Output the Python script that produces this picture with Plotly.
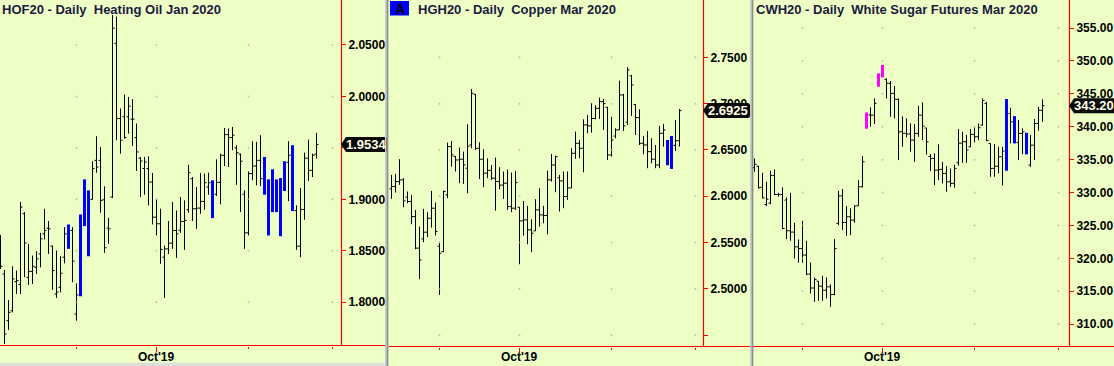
import plotly.graph_objects as go

W, H = 1114, 366
BG = "#EEFFC6"
RED = "#FF0000"
FONT = "Liberation Sans, Arial, sans-serif"
TITLE_COLOR = "#1A1A40"

# ---------------- Panel 1: Heating Oil ----------------
hof_title = "HOF20 - Daily\u00a0 Heating Oil Jan 2020"
hof_open = [1.8470, 1.8275, 1.7821, 1.7918, 1.8200, 1.8172, 1.8860, 1.8243, 1.8300, 1.8340,
            1.8470, 1.8665, 1.8720, 1.8545, 1.8081, 1.8145, 1.8438, 1.8740, 1.8698, 1.7886,
            1.8070, 1.8760, 1.9080, 1.8999, 1.9379, 1.9379, 1.8996, 1.8720, 1.9022, 2.0516,
            1.9785, 1.9802, 1.9802, 1.9779, 1.9600, 1.9400, 1.9300, 1.9300, 1.9168, 1.8827,
            1.8763, 1.8438, 1.8519, 1.8574, 1.8698, 1.8700, 1.8785, 1.8900, 1.9200, 1.8909,
            1.8915, 1.8980, 1.9120, 1.9180, 1.9050, 1.9165, 1.9428, 1.9629, 1.9600, 1.9500,
            1.9440, 1.9050, 1.8675, 1.9250, 1.9324, 1.9379, 1.9400, 1.9190, 1.8880, 1.9190,
            1.8650, 1.9090, 1.9360, 1.9520, 1.8890, 1.8545, 1.8902, 1.9400, 1.9282, 1.9440]
hof_high = [1.8655, 1.8314, 1.8022, 1.8350, 1.8308, 1.8974, 1.8876, 1.8568, 1.8454, 1.8496,
            1.8675, 1.8909, 1.8789, 1.8551, 1.8503, 1.8448, 1.8730, 1.8756, 1.8730, 1.8184,
            1.8853, 1.9194, 1.9087, 1.9370, 1.9613, 1.9509, 1.9126, 1.8821, 2.0792, 2.0776,
            1.9883, 2.0019, 1.9996, 1.9974, 1.9737, 1.9412, 1.9412, 1.9418, 1.9256, 1.8999,
            1.8909, 1.8551, 1.8789, 1.8974, 1.8892, 1.9022, 1.8990, 1.9337, 1.9217, 1.9120,
            1.9256, 1.9250, 1.9259, 1.9185, 1.9389, 1.9444, 1.9694, 1.9688, 1.9704, 1.9526,
            1.9444, 1.9087, 1.9272, 1.9565, 1.9558, 1.9623, 1.9412, 1.9194, 1.9292, 1.9194,
            1.9207, 1.9370, 1.9565, 1.9526, 1.8941, 1.9110, 1.9454, 1.9581, 1.9444, 1.9646]
hof_low = [1.8324, 1.7594, 1.7730, 1.7902, 1.8081, 1.8081, 1.8243, 1.8168, 1.8178, 1.8275,
           1.8340, 1.8610, 1.8470, 1.8120, 1.8042, 1.8097, 1.8379, 1.8519, 1.8194, 1.7821,
           1.8058, 1.8740, 1.8448, 1.8999, 1.9259, 1.8870, 1.8480, 1.8568, 1.9012, 1.9574,
           1.9444, 1.9590, 1.9639, 1.9519, 1.9276, 1.9022, 1.9045, 1.8941, 1.8756, 1.8649,
           1.8373, 1.8042, 1.8470, 1.8519, 1.8431, 1.8675, 1.8509, 1.8870, 1.8789, 1.8714,
           1.8860, 1.8899, 1.9045, 1.8818, 1.9032, 1.8951, 1.9324, 1.9315, 1.9477, 1.9142,
           1.8876, 1.8519, 1.8649, 1.9185, 1.9136, 1.9129, 1.9045, 1.8649, 1.8876, 1.8876,
           1.8642, 1.9081, 1.8983, 1.8886, 1.8509, 1.8438, 1.8802, 1.9178, 1.9217, 1.9396]
hof_close = [1.8350, 1.7691, 1.7902, 1.8227, 1.8210, 1.8925, 1.8577, 1.8300, 1.8350, 1.8422,
             1.8616, 1.8698, 1.8714, 1.8308, 1.8100, 1.8282, 1.8665, 1.8530, 1.8399, 1.8071,
             1.8840, 1.9180, 1.8460, 1.9300, 1.9315, 1.8990, 1.8530, 1.8714, 2.0662, 1.9785,
             1.9574, 1.9600, 1.9905, 1.9779, 1.9461, 1.9373, 1.9363, 1.9168, 1.8827, 1.8763,
             1.8513, 1.8519, 1.8574, 1.8698, 1.8665, 1.8785, 1.8795, 1.9259, 1.8909, 1.8915,
             1.8980, 1.9162, 1.9162, 1.8830, 1.9165, 1.9428, 1.9629, 1.9600, 1.9623, 1.9454,
             1.9370, 1.8675, 1.9250, 1.9324, 1.9379, 1.9201, 1.9060, 1.8660, 1.9280, 1.8890,
             1.9200, 1.9360, 1.9428, 1.8890, 1.8545, 1.8902, 1.9400, 1.9282, 1.9428, 1.9534]
hof_painted = {17: "blue", 20: "blue", 21: "blue", 22: "blue", 53: "blue", 66: "blue",
               67: "blue", 68: "blue", 69: "blue", 70: "blue", 71: "blue", 73: "blue"}
hof_month_starts = [19, 39, 62, 83]
hof_yticks = [1.80, 1.85, 1.90, 1.95, 2.00, 2.05]
hof_yticktext = ["1.8000", "1.8500", "1.9000", "1.9500", "2.0000", "2.0500"]
hof_last = "1.9534"

# ---------------- Panel 2: Copper ----------------
hg_title = "HGH20 - Daily\u00a0 Copper Mar 2020"
hg_open = [2.6080, 2.6105, 2.6159, 2.6177, 2.5990, 2.5943, 2.5781, 2.5440, 2.5540, 2.5612,
           2.5763, 2.5871, 2.5460, 2.5403, 2.6015, 2.6536, 2.6430, 2.6392, 2.6400, 2.6303,
           2.6554, 2.7101, 2.6518, 2.6400, 2.6249, 2.6280, 2.6195, 2.6159, 2.6120, 2.6141,
           2.5889, 2.5871, 2.5882, 2.5734, 2.5745, 2.5637, 2.5626, 2.5853, 2.5799, 2.5792,
           2.6177, 2.6338, 2.6200, 2.6166, 2.5997, 2.6090, 2.6464, 2.6572, 2.6518, 2.6770,
           2.6760, 2.6840, 2.6950, 2.7022, 2.6960, 2.6446, 2.6650, 2.6716, 2.7094, 2.6800,
           2.7300, 2.6990, 2.6850, 2.6572, 2.6554, 2.6482, 2.6400, 2.6338, 2.6680, 2.6600,
           2.6340, 2.6550, 2.6600]
hg_high = [2.6231, 2.6241, 2.6400, 2.6195, 2.6051, 2.6015, 2.5853, 2.5673, 2.5864, 2.5828,
           2.6058, 2.5932, 2.5500, 2.6062, 2.6579, 2.6597, 2.6436, 2.6526, 2.6482, 2.6777,
           2.7159, 2.7105, 2.6583, 2.6508, 2.6410, 2.6338, 2.6418, 2.6313, 2.6267, 2.6288,
           2.6256, 2.6274, 2.5882, 2.5950, 2.5896, 2.5752, 2.5968, 2.6087, 2.5896, 2.6277,
           2.6457, 2.6439, 2.6231, 2.6267, 2.6267, 2.6518, 2.6698, 2.6608, 2.6831, 2.6878,
           2.7004, 2.6982, 2.7065, 2.7051, 2.6968, 2.6860, 2.6734, 2.7249, 2.7105, 2.7392,
           2.7310, 2.6993, 2.6939, 2.6651, 2.6705, 2.6626, 2.6554, 2.6759, 2.6781, 2.6608,
           2.6651, 2.6824, 2.6943]
hg_low = [2.5972, 2.6040, 2.6123, 2.5882, 2.5925, 2.5698, 2.5428, 2.5105, 2.5504, 2.5558,
          2.5662, 2.5576, 2.4936, 2.5396, 2.5979, 2.6320, 2.6267, 2.6141, 2.6134, 2.6033,
          2.6518, 2.6500, 2.6187, 2.6098, 2.6195, 2.6177, 2.5846, 2.6076, 2.5972, 2.5853,
          2.5828, 2.5853, 2.5266, 2.5576, 2.5482, 2.5396, 2.5626, 2.5673, 2.5709, 2.5590,
          2.6159, 2.6044, 2.5835, 2.5871, 2.5961, 2.6087, 2.6403, 2.6410, 2.6259, 2.6680,
          2.6687, 2.6831, 2.6835, 2.6716, 2.6392, 2.6428, 2.6626, 2.6716, 2.6705, 2.6770,
          2.6867, 2.6662, 2.6554, 2.6454, 2.6303, 2.6356, 2.6303, 2.6303, 2.6536, 2.6335,
          2.6295, 2.6490, 2.6536]
hg_close = [2.6105, 2.6159, 2.6177, 2.5950, 2.5943, 2.5781, 2.5440, 2.5313, 2.5612, 2.5763,
            2.5871, 2.5619, 2.5385, 2.6051, 2.6536, 2.6446, 2.6392, 2.6400, 2.6338, 2.6540,
            2.7112, 2.6518, 2.6400, 2.6249, 2.6280, 2.6195, 2.6159, 2.6120, 2.6141, 2.5889,
            2.5871, 2.6148, 2.5734, 2.5745, 2.5637, 2.5601, 2.5853, 2.5799, 2.5792, 2.6177,
            2.6338, 2.6428, 2.6166, 2.5997, 2.6090, 2.6464, 2.6572, 2.6518, 2.6770, 2.6760,
            2.6840, 2.6950, 2.7022, 2.7000, 2.6446, 2.6608, 2.6716, 2.7094, 2.6760, 2.7364,
            2.7202, 2.6850, 2.6572, 2.6554, 2.6482, 2.6400, 2.6338, 2.6680, 2.6716, 2.6340,
            2.6640, 2.6600, 2.6925]
hg_painted = {69: "blue", 70: "blue"}
hg_month_starts = [12, 32, 55, 76]
hg_yticks = [2.45, 2.50, 2.55, 2.60, 2.65, 2.70, 2.75]
hg_yticktext = ["", "2.5000", "2.5500", "2.6000", "2.6500", "2.7000", "2.7500"]
hg_last = "2.6925"

# ---------------- Panel 3: White Sugar ----------------
cw_title = "CWH20 - Daily\u00a0 White Sugar Futures Mar 2020"
cw_open = [333.80, 334.00, 330.80, 328.20, 328.40, 332.60, 329.71, 329.70, 328.85, 324.20,
           324.00, 321.76, 321.50, 320.50, 317.61, 315.50, 316.54, 315.78, 315.17, 315.68,
           314.50, 325.31, 329.50, 325.46, 326.32, 325.81, 327.99, 330.88, 339.80, 341.80,
           341.77, 346.20, 347.60, 347.20, 346.59, 345.07, 344.16, 339.24, 339.00, 338.90,
           337.97, 338.99, 341.77, 339.80, 335.50, 335.19, 333.41, 333.52, 332.91, 331.64,
           331.39, 334.53, 337.50, 337.72, 336.96, 338.84, 338.48, 340.25, 343.55, 337.47,
           333.67, 334.00, 335.44, 333.50, 342.00, 341.50, 337.60, 338.99, 339.00, 334.17,
           337.20, 340.50, 342.50]
cw_high = [335.19, 334.07, 333.01, 331.64, 333.31, 333.52, 329.97, 330.78, 329.26, 329.97,
           325.41, 322.87, 325.71, 322.67, 319.38, 317.10, 316.54, 317.35, 317.10, 316.03,
           322.92, 330.27, 330.53, 327.94, 327.59, 328.09, 331.89, 335.54, 342.18, 342.94,
           344.31, 348.11, 349.38, 347.35, 346.94, 346.18, 344.31, 341.57, 341.27, 340.51,
           340.41, 343.19, 343.70, 339.85, 335.85, 335.95, 337.32, 334.68, 334.02, 333.67,
           334.22, 339.65, 339.24, 338.74, 339.65, 339.90, 340.51, 344.31, 343.80, 337.47,
           337.37, 336.96, 336.96, 344.21, 342.89, 341.62, 341.02, 339.75, 339.09, 338.74,
           341.17, 343.04, 344.16]
cw_low = [333.16, 330.63, 329.11, 327.94, 328.25, 329.61, 329.36, 324.45, 322.92, 322.67,
          319.99, 319.33, 319.33, 317.46, 314.67, 313.40, 313.55, 313.55, 313.91, 312.64,
          314.41, 325.05, 324.29, 323.43, 323.53, 325.41, 327.99, 330.78, 339.70, 340.00,
          340.41, 346.08, 347.50, 344.31, 341.52, 341.27, 334.93, 336.96, 338.38, 336.20,
          334.68, 338.48, 337.97, 335.75, 333.26, 331.13, 331.89, 331.39, 330.12, 330.88,
          330.73, 334.07, 334.53, 334.53, 336.96, 337.62, 337.97, 340.20, 337.82, 332.40,
          332.40, 332.91, 331.08, 333.31, 337.47, 337.47, 334.93, 335.85, 335.80, 333.92,
          334.93, 339.39, 340.75]
cw_close = [334.28, 330.73, 329.20, 329.00, 332.60, 329.71, 329.70, 324.55, 324.20, 324.00,
            321.76, 321.50, 320.50, 317.61, 315.50, 316.80, 315.78, 315.17, 315.68, 314.50,
            321.51, 329.50, 325.46, 326.32, 325.81, 327.94, 330.88, 334.68, 342.00, 341.77,
            343.55, 347.90, 349.20, 346.59, 345.07, 344.16, 339.24, 339.00, 338.90, 337.97,
            338.99, 341.77, 340.10, 337.72, 335.19, 333.41, 333.52, 332.91, 331.64, 331.39,
            333.67, 337.50, 337.72, 336.45, 338.84, 338.48, 339.85, 344.00, 337.90, 333.67,
            334.00, 335.44, 336.30, 344.00, 340.75, 337.60, 338.99, 339.24, 335.90, 337.20,
            340.50, 342.50, 343.20]
cw_painted = {28: "magenta", 31: "magenta", 32: "magenta", 63: "blue", 65: "blue", 68: "blue"}
cw_month_starts = [12, 32, 55, 76]
cw_yticks = [310, 315, 320, 325, 330, 335, 340, 345, 350, 355]
cw_yticktext = ["310.00", "315.00", "320.00", "325.00", "330.00", "335.00",
                "340.00", "345.00", "350.00", "355.00"]
cw_last = "343.20"

month_labels = ["", "Oct'19", "", ""]
PAINT = {"blue": "#0000FF", "magenta": "#FF00FF"}

# ---------------- layout geometry (pixels) ----------------
panels = [
    dict(title=hof_title, o=hof_open, h=hof_high, l=hof_low, c=hof_close, paint=hof_painted,
         months=hof_month_starts, yt=hof_yticks, ytt=hof_yticktext, last=hof_last,
         xr=[-0.125, 85.125], yr=[1.7580, 2.0937], px0=0, px1=341, pyb=345.5,
         line0=0, line1=385, title_px=0),
    dict(title=hg_title, o=hg_open, h=hg_high, l=hg_low, c=hg_close, paint=hg_painted,
         months=hg_month_starts, yt=hg_yticks, ytt=hg_yticktext, last=hg_last,
         xr=[-0.625, 77.875], yr=[2.4378, 2.8119], px0=389, px1=703, pyb=346.5,
         line0=389, line1=750, title_px=416),
    dict(title=cw_title, o=cw_open, h=cw_high, l=cw_low, c=cw_close, paint=cw_painted,
         months=cw_month_starts, yt=cw_yticks, ytt=cw_yticktext, last=cw_last,
         xr=[-0.375, 78.625], yr=[306.61, 359.26], px0=753, px1=1069, pyb=346.5,
         line0=753, line1=1114, title_px=754),
]


def px(x):
    return x / W


def py(y):
    return 1 - y / H


fig = go.Figure()
shapes = []
annotations = []
layout_axes = {}
tfont = dict(family=FONT, size=12, color="black", weight="bold")

# light strip at bottom of first panel
shapes.append(dict(type="rect", xref="paper", yref="paper", x0=0, x1=px(385),
                   y0=0, y1=py(362.8), fillcolor="#DEDFD8", line=dict(width=0), layer="above"))

for k, p in enumerate(panels):
    sfx = "" if k == 0 else str(k + 1)
    xa, ya = "x" + sfx, "y" + sfx
    n = len(p["o"])
    idx = list(range(n))
    plain = [i for i in idx if i not in p["paint"]]

    # OHLC bars
    fig.add_trace(go.Ohlc(
        x=plain,
        open=[p["o"][i] for i in plain], high=[p["h"][i] for i in plain],
        low=[p["l"][i] for i in plain], close=[p["c"][i] for i in plain],
        increasing=dict(line=dict(color="black", width=1)),
        decreasing=dict(line=dict(color="black", width=1)),
        tickwidth=0.5, hoverinfo="skip", xaxis=xa, yaxis=ya, showlegend=False))

    # painted (highlighted) bars
    for cname in sorted(set(p["paint"].values())):
        sel = [i for i in idx if p["paint"].get(i) == cname]
        fig.add_trace(go.Bar(
            x=sel, base=[p["l"][i] for i in sel],
            y=[p["h"][i] - p["l"][i] for i in sel],
            width=0.75, marker=dict(color=PAINT[cname], line=dict(width=0)),
            hoverinfo="skip", xaxis=xa, yaxis=ya, showlegend=False))

    # faint grid dots at month / price tick intersections
    gx, gy = [], []
    for m in p["months"]:
        for t in p["yt"]:
            gx.append(m)
            gy.append(t)
    fig.add_trace(go.Scatter(x=gx, y=gy, mode="markers",
                             marker=dict(size=2, color="#A8A8A8", opacity=0.7),
                             hoverinfo="skip", xaxis=xa, yaxis=ya, showlegend=False))

    major = [m for m, lab in zip(p["months"], month_labels) if lab]
    minor = [m for m, lab in zip(p["months"], month_labels) if not lab]
    ydom = [py(p["pyb"]), 1.0]
    layout_axes["xaxis" + sfx] = dict(
        domain=[px(p["px0"]), px(p["px1"])], range=p["xr"], anchor=ya,
        tickvals=major, showticklabels=False, ticks="outside", ticklen=5,
        tickcolor=RED, tickwidth=1,
        minor=dict(tickvals=minor, ticks="outside", ticklen=2, tickcolor=RED, tickwidth=1,
                   showgrid=False),
        showgrid=False, zeroline=False,
        showline=False, fixedrange=True, automargin=False, rangeslider=dict(visible=False))
    layout_axes["yaxis" + sfx] = dict(
        domain=ydom, range=p["yr"], anchor=xa, side="right",
        tickvals=p["yt"], ticktext=p["ytt"], ticks="outside", ticklen=4,
        tickcolor=RED, tickwidth=1, tickfont=tfont, showgrid=False, zeroline=False,
        showline=False, fixedrange=True, automargin=False)

    # month labels below the axis
    for m, lab in zip(p["months"], month_labels):
        if lab:
            annotations.append(dict(xref=xa, yref="paper", x=m, y=py(357.2), text=lab,
                                    showarrow=False, xanchor="center", yanchor="middle",
                                    font=tfont))

    # red axis lines
    shapes.append(dict(type="line", xref="paper", yref="paper",
                       x0=px(p["line0"]), x1=px(p["line1"]), y0=py(p["pyb"]), y1=py(p["pyb"]),
                       line=dict(color=RED, width=1.2), layer="above"))
    shapes.append(dict(type="line", xref="paper", yref="paper",
                       x0=px(p["px1"] + 0.5), x1=px(p["px1"] + 0.5), y0=py(p["pyb"]), y1=1,
                       line=dict(color=RED, width=1.2), layer="above"))

    # last price flag
    lastv = float(p["last"])
    frac = (lastv - p["yr"][0]) / (p["yr"][1] - p["yr"][0])
    ycp = ydom[0] + frac * (ydom[1] - ydom[0])
    ypix = (1 - ycp) * H
    tip = p["px1"]
    b0, b1 = tip + 5, tip + 47
    hh = 7.5
    r = 2.5
    path = (f"M {px(tip)},{py(ypix)} L {px(b0)},{py(ypix - hh)} "
            f"L {px(b1 - r)},{py(ypix - hh)} Q {px(b1)},{py(ypix - hh)} {px(b1)},{py(ypix - hh + r)} "
            f"L {px(b1)},{py(ypix + hh - r)} Q {px(b1)},{py(ypix + hh)} {px(b1 - r)},{py(ypix + hh)} "
            f"L {px(b0)},{py(ypix + hh)} Z")
    shapes.append(dict(type="path", xref="paper", yref="paper", path=path,
                       fillcolor="#0A0A0A", line=dict(width=0), layer="above"))
    annotations.append(dict(xref="paper", yref="paper", x=px((b0 + b1) / 2 - 1), y=py(ypix),
                            text=p["last"], showarrow=False, xanchor="center", yanchor="middle",
                            font=dict(family=FONT, size=13, color="#FFFFE6", weight="bold")))

    # panel title
    annotations.append(dict(xref="paper", yref="paper", x=px(p["title_px"]), y=py(9.5),
                            text=p["title"], showarrow=False, xanchor="left", yanchor="middle",
                            font=dict(family=FONT, size=13, color=TITLE_COLOR, weight="bold")))

# "A" badge on copper panel
shapes.append(dict(type="rect", xref="paper", yref="paper", x0=px(390), x1=px(409),
                   y0=py(15.5), y1=py(1), fillcolor="#0000FF", line=dict(width=0), layer="above"))
annotations.append(dict(xref="paper", yref="paper", x=px(399.5), y=py(8.8), text="A",
                        showarrow=False, xanchor="center", yanchor="middle",
                        font=dict(family=FONT, size=14, color="black", weight="bold")))

# panel separators
for sx in (385, 750):
    shapes.append(dict(type="rect", xref="paper", yref="paper", x0=px(sx), x1=px(sx + 1.6),
                       y0=0, y1=1, fillcolor="#C8CCD2", line=dict(width=0), layer="above"))
    shapes.append(dict(type="rect", xref="paper", yref="paper", x0=px(sx + 1.6), x1=px(sx + 3.4),
                       y0=0, y1=1, fillcolor="#8E8E8E", line=dict(width=0), layer="above"))

fig.update_layout(
    width=W, height=H, margin=dict(l=0, r=0, t=0, b=0, autoexpand=False),
    paper_bgcolor=BG, plot_bgcolor=BG, showlegend=False,
    barmode="overlay", dragmode=False, hovermode=False,
    font=dict(family=FONT), shapes=shapes, annotations=annotations,
    **layout_axes)

fig.write_html("out.html", config={"displayModeBar": False},
               post_script="document.body.style.margin='0';document.body.style.background='" + BG + "';")
